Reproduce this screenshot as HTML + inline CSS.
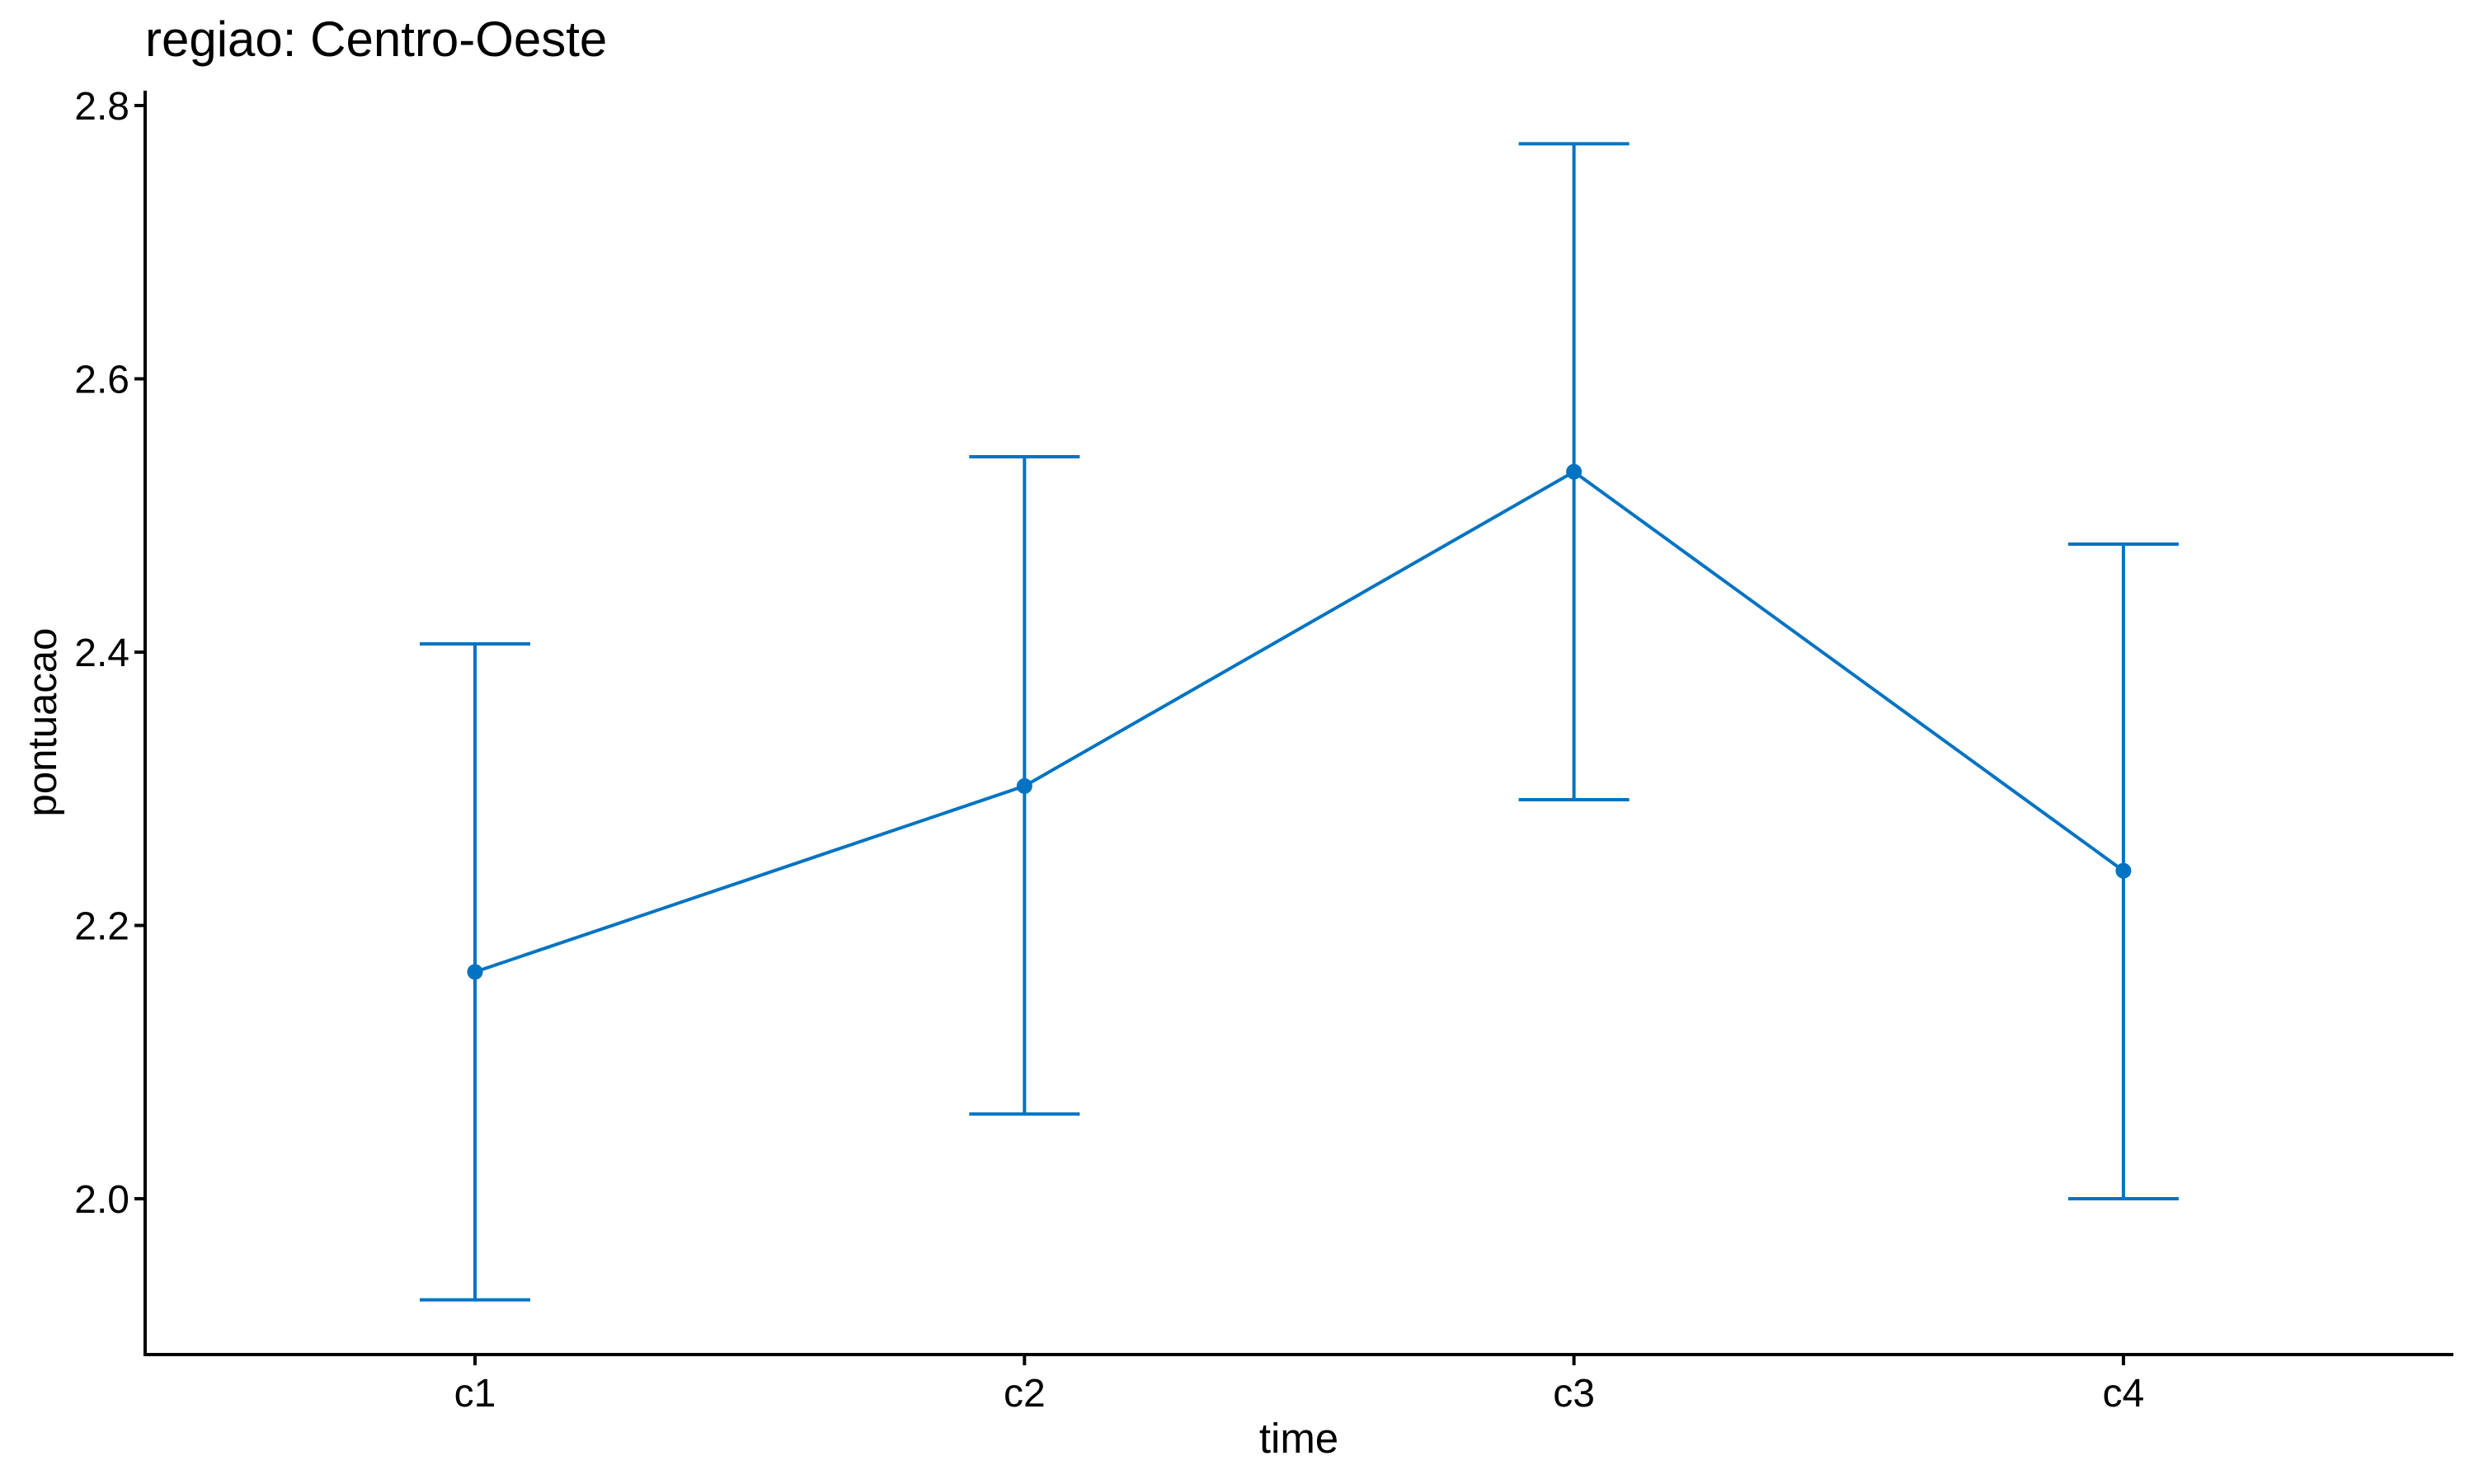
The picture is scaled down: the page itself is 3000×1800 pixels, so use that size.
<!DOCTYPE html>
<html><head><meta charset="utf-8"><style>
html,body{margin:0;padding:0;background:#fff;}
svg{display:block;font-family:"Liberation Sans",Arial,sans-serif;}
</style></head><body>
<svg id="chart" width="3000" height="1800" viewBox="0 0 3000 1800" xmlns="http://www.w3.org/2000/svg">
<rect width="3000" height="1800" fill="#fff"/>
<text x="176" y="68" font-size="60" fill="#000">regiao: Centro-Oeste</text>
<g id="axes"></g>
<g id="marks"></g>
<text x="1575" y="1762" font-size="51" text-anchor="middle" fill="#000">time</text>
<text transform="translate(68,876) rotate(-90)" font-size="49" text-anchor="middle" fill="#000">pontuacao</text>
</svg>
<script>
const categories = ["c1","c2","c3","c4"];
const means = [2.166, 2.302, 2.532, 2.240];
const uppers = [2.406, 2.543, 2.772, 2.479];
const lowers = [1.926, 2.062, 2.292, 2.000];
const yTicks = [2.0, 2.2, 2.4, 2.6, 2.8];
const yTickLabels = ["2.0","2.2","2.4","2.6","2.8"];

const NS="http://www.w3.org/2000/svg";
const axL=176, axB=1643, axT=110, axR=2975;
function yScale(v){return 1454-(v-2.0)/0.8*1326;}
function xScale(i){return 576+i*666.3;}
function mk(tag,attrs,parent){const e=document.createElementNS(NS,tag);for(const k in attrs)e.setAttribute(k,attrs[k]);parent.appendChild(e);return e;}
const axesG=document.getElementById('axes');
const marksG=document.getElementById('marks');
const C="#0073C2";

let yl=mk('line',{x1:axL,y1:axT,x2:axL,y2:axB+2,stroke:'#000','stroke-width':4},axesG);


let xl=mk('line',{x1:axL-2,y1:axB,x2:axR,y2:axB,stroke:'#000','stroke-width':4},axesG);



yTicks.forEach((v,i)=>{
  const y=yScale(v);
  const t=mk('line',{x1:axL-13,y1:y,x2:axL,y2:y,stroke:'#000','stroke-width':4},axesG);
  
  
  const l=mk('text',{x:axL-19,y:y+17,'font-size':48,'text-anchor':'end',fill:'#000'},axesG);
  l.textContent=yTickLabels[i];
  
  
});
categories.forEach((c,i)=>{
  const x=xScale(i);
  const t=mk('line',{x1:x,y1:axB,x2:x,y2:axB+13,stroke:'#000','stroke-width':4},axesG);
  
  
  const l=mk('text',{x:x,y:1706,'font-size':48,'text-anchor':'middle',fill:'#000'},axesG);
  l.textContent=c;
  
  
});

categories.forEach((c,i)=>{
  const x=xScale(i), yu=yScale(uppers[i]), yd=yScale(lowers[i]);
  const g=mk('g',{},marksG);
  
  
  mk('line',{x1:x,y1:yu,x2:x,y2:yd,stroke:C,'stroke-width':4},g);
  mk('line',{x1:x-67,y1:yu,x2:x+67,y2:yu,stroke:C,'stroke-width':4},g);
  mk('line',{x1:x-67,y1:yd,x2:x+67,y2:yd,stroke:C,'stroke-width':4},g);
});
const pts=means.map((m,i)=>xScale(i)+','+yScale(m)).join(' ');
const pl=mk('polyline',{points:pts,fill:'none',stroke:C,'stroke-width':4},marksG);


means.forEach((m,i)=>{
  const p=mk('circle',{cx:xScale(i),cy:yScale(m),r:9.5,fill:C},marksG);
  
  
});
</script>
</body></html>
